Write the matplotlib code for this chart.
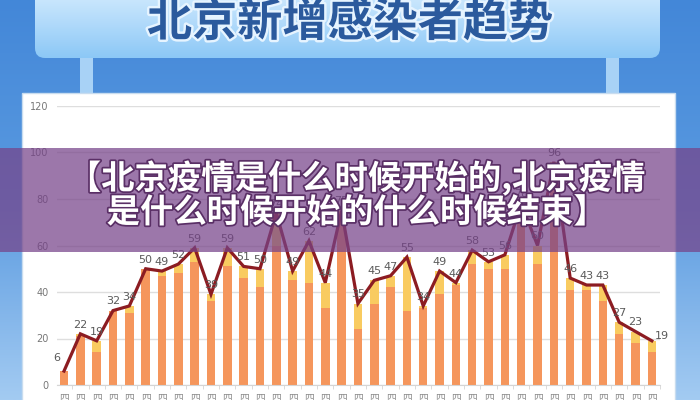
import numpy as np
import matplotlib
matplotlib.use("Agg")
import matplotlib.pyplot as plt
from matplotlib.patches import Rectangle, FancyBboxPatch
from matplotlib.colors import LinearSegmentedColormap
import matplotlib.patheffects as pe

CJK = ["Noto Sans CJK SC", "DejaVu Sans"]

TITLE = "北京新增感染者趋势"
BANNER_1 = "【北京疫情是什么时候开始的,北京疫情"
BANNER_2 = "是什么时候开始的什么时候结束】"

# daily totals (line + labels), and the two stacked parts of each bar
totals = [6, 22, 19, 32, 34, 50, 49, 52, 59, 39, 59, 51, 50, 74, 49, 62, 44, 75, 35,
          45, 47, 55, 34, 49, 44, 58, 53, 56, 78, 60, 96, 46, 43, 43, 27, 23, 19]
orange = [6, 21, 14, 32, 31, 50, 47, 48, 53, 36, 51, 46, 42, 60, 45, 44, 33, 72, 24,
          35, 42, 32, 33, 39, 43, 52, 50, 50, 70, 52, 86, 41, 41, 36, 22, 18, 14]
yellow = [0, 1, 5, 0, 3, 0, 2, 4, 6, 3, 8, 5, 8, 14, 4, 18, 11, 3, 11,
          10, 5, 23, 1, 10, 1, 6, 3, 6, 8, 8, 10, 5, 2, 7, 5, 5, 5]
x_labels = ["四\n月"] * len(totals)
y_ticks = [0, 20, 40, 60, 80, 100, 120]

ORANGE = "#f5965c"
YELLOW = "#f9cb60"
LINE = "#8c1c22"

fig = plt.figure(figsize=(7, 4), dpi=100)

# ── background (pixel coordinates, y down) ───────────────────────────────────
bg = fig.add_axes([0, 0, 1, 1])
bg.set_xlim(0, 700); bg.set_ylim(400, 0); bg.axis("off")

blue = LinearSegmentedColormap.from_list("bgblue", ["#4387d8", "#5a9ae0", "#a3cbf2"])
bg.imshow(np.linspace(0, 1, 256).reshape(-1, 1), cmap=blue,
          extent=[0, 700, 400, 0], aspect="auto", zorder=0)

# title board with gradient
board = FancyBboxPatch((35, -20), 625, 78, boxstyle="round,pad=0,rounding_size=10",
                       facecolor="none", edgecolor="none", zorder=1)
bg.add_patch(board)
sky = LinearSegmentedColormap.from_list("sky", ["#dcf1fe", "#b5dcfb", "#8cc8f6"])
im = bg.imshow(np.linspace(0, 1, 256).reshape(-1, 1), cmap=sky,
               extent=[35, 660, 58, -20], aspect="auto", zorder=1)
im.set_clip_path(board)

# posts
for px in (80, 606):
    bg.add_patch(Rectangle((px, 58), 13, 36, facecolor="#a8d2f6", edgecolor="none", zorder=1))

bg.text(350, 23, TITLE, family=CJK, fontsize=32.5, fontweight="heavy", color="#2b5a9d",
        ha="center", va="center", zorder=2,
        path_effects=[pe.withStroke(linewidth=3.5, foreground="#e6f4ff")])

# white chart panel
bg.add_patch(Rectangle((22, 93), 653, 320, facecolor="white", edgecolor="#c8dcef",
                       linewidth=1, zorder=1))

# ── chart ────────────────────────────────────────────────────────────────────
ax = fig.add_axes([57 / 700, 15 / 400, 603 / 700, 279 / 400])
ax.patch.set_alpha(0)
x = np.arange(len(totals))

ax.bar(x, orange, 0.52, color=ORANGE, zorder=2)
ax.bar(x, yellow, 0.52, bottom=orange, color=YELLOW, zorder=2)
ax.plot(x, totals, color=LINE, linewidth=2.3, zorder=3, solid_joinstyle="miter")

for i, v in enumerate(totals):
    dx, dy = 0, 3
    if i == 0:
        dx, dy = -5, 6
    if i == len(totals) - 1:
        dx, dy = 7, 0
    ax.annotate(str(v), (i, v), xytext=(dx, dy), textcoords="offset points",
                ha="center", va="bottom", fontsize=8, color="#5a5a5a", zorder=4)

ax.set_xlim(-0.43, 36.3)
ax.set_ylim(0, 120)
ax.set_yticks(y_ticks)
ax.tick_params(axis="y", length=0, labelsize=7, labelcolor="#777777", pad=6)
ax.yaxis.grid(True, color="#dedede", linewidth=1)
ax.set_axisbelow(True)
for s in ("top", "right", "left"):
    ax.spines[s].set_visible(False)
ax.spines["bottom"].set_color("#d5d5d5")

ax.set_xticks(x)
ax.set_xticklabels(x_labels, family=CJK, fontsize=7, color="#8a8a8a", linespacing=1.0, va="top")
ax.tick_params(axis="x", length=0, pad=5)
ax.set_xticks(x + 0.5, minor=True)
ax.tick_params(axis="x", which="minor", length=3, color="#d5d5d5")

# ── purple overlay banner ────────────────────────────────────────────────────
ov = fig.add_axes([0, 0, 1, 1])
ov.set_zorder(10)
ov.patch.set_alpha(0)
ov.set_xlim(0, 700); ov.set_ylim(400, 0); ov.axis("off")
ov.add_patch(Rectangle((0, 148), 700, 104, facecolor="#764389", alpha=0.72,
                       edgecolor="none"))
shadow = [pe.withStroke(linewidth=2.5, foreground="#5a2f66")]
ov.text(357, 178, BANNER_1, family=CJK, fontsize=24, fontweight="heavy", color="white",
        ha="center", va="center", path_effects=shadow)
ov.text(357, 213, BANNER_2, family=CJK, fontsize=24, fontweight="heavy", color="white",
        ha="center", va="center", path_effects=shadow)

fig.savefig("out.png", dpi=100)
